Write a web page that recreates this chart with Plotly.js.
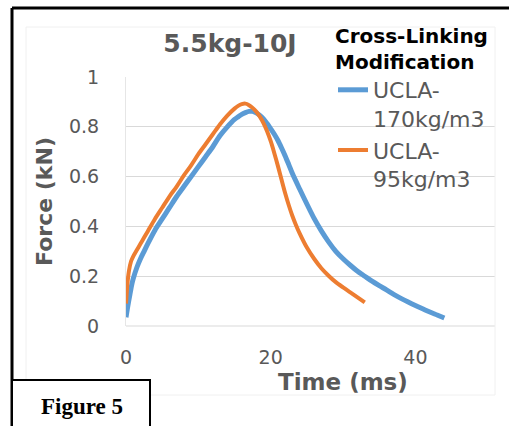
<!DOCTYPE html>
<html>
<head>
<meta charset="utf-8">
<script src="https://cdn.plot.ly/plotly-3.0.1.min.js"></script>
<style>html,body{margin:0;padding:0;background:#fff;}#chart{width:509px;height:426px;}</style>
</head>
<body>
<div id="chart"></div>
<script>
// Series: UCLA-170kg/m3 (blue)
const time170 = [0, 0.25, 0.5, 0.75, 1, 1.5, 2, 2.5, 3, 4, 5, 6, 7, 8, 9, 10, 11, 12, 13, 14, 15, 15.5, 16, 16.5, 17, 17.5, 18, 18.5, 19, 19.5, 20, 20.5, 21, 21.5, 22, 22.5, 23, 24, 25, 26, 27, 28, 29, 30, 31, 32, 33, 34, 35, 36, 37, 38, 39, 40, 41, 42, 43, 44];
const force170 = [0.035, 0.08, 0.12, 0.16, 0.19, 0.235, 0.27, 0.3, 0.33, 0.385, 0.43, 0.475, 0.52, 0.56, 0.6, 0.64, 0.68, 0.72, 0.765, 0.8, 0.83, 0.84, 0.85, 0.857, 0.862, 0.862, 0.856, 0.846, 0.832, 0.813, 0.792, 0.77, 0.745, 0.715, 0.683, 0.648, 0.612, 0.55, 0.49, 0.432, 0.382, 0.338, 0.3, 0.27, 0.244, 0.22, 0.2, 0.18, 0.162, 0.145, 0.127, 0.111, 0.096, 0.082, 0.069, 0.056, 0.044, 0.032];
// Series: UCLA-95kg/m3 (orange)
const time95 = [0, 0.2, 0.4, 0.7, 1, 1.5, 2, 2.5, 3, 4, 5, 6, 7, 8, 9, 10, 11, 12, 13, 14, 15, 15.5, 16, 16.5, 17, 17.5, 18, 18.5, 19, 19.5, 20, 20.5, 21, 21.5, 22, 22.5, 23, 23.5, 24, 25, 26, 27, 28, 29, 30, 31, 32, 33];
const force95 = [0.09, 0.17, 0.22, 0.26, 0.28, 0.305, 0.33, 0.355, 0.38, 0.43, 0.475, 0.52, 0.56, 0.605, 0.645, 0.69, 0.73, 0.77, 0.81, 0.845, 0.873, 0.884, 0.891, 0.893, 0.887, 0.876, 0.861, 0.841, 0.815, 0.782, 0.742, 0.694, 0.642, 0.587, 0.533, 0.485, 0.442, 0.405, 0.372, 0.315, 0.27, 0.232, 0.202, 0.176, 0.155, 0.135, 0.115, 0.095];
const seriesNames = ["UCLA-<br>170kg/m3", "UCLA-<br>95kg/m3"];
const xTicks = [0, 20, 40];
const yTicks = [0, 0.2, 0.4, 0.6, 0.8, 1];
const yTickText = ["0", "0.2", "0.4", "0.6", "0.8", "1"];

const FONT = "DejaVu Sans, sans-serif";
const GRAY = "#595959";

const traces = [
  {x: time170, y: force170, name: seriesNames[0], legendgroup: "a", type: "scatter", mode: "lines",
   line: {color: "#5B9BD5", width: 5, shape: "spline", smoothing: 0.8}},
  {x: time95, y: force95, name: seriesNames[1], legendgroup: "b", type: "scatter", mode: "lines",
   line: {color: "#ED7D31", width: 4, shape: "spline", smoothing: 0.8}}
];

// paper coordinate helpers (plot area: x 126..495, y 77..326 px)
const px = v => (v - 126) / 369;
const py = v => (326 - v) / 249;

const layout = {
  width: 509, height: 426,
  margin: {l: 126, r: 14, t: 77, b: 100},
  paper_bgcolor: "#ffffff", plot_bgcolor: "#ffffff",
  font: {family: FONT, color: GRAY},
  title: {text: "<b>5.5kg-10J</b>", font: {family: FONT, size: 25, color: GRAY},
          x: 230/509, xref: "container", xanchor: "center", y: 1 - 43/426, yref: "container", yanchor: "middle"},
  xaxis: {range: [0, 51], tickvals: xTicks, ticktext: xTicks.map(String),
          showgrid: false, zeroline: false, showline: false,
          ticks: "outside", ticklen: 14, tickcolor: "rgba(0,0,0,0)",
          tickfont: {family: FONT, size: 19, color: GRAY}, fixedrange: true},
  yaxis: {range: [0, 1], tickvals: yTicks, ticktext: yTickText,
          showgrid: true, gridcolor: "#d9d9d9", gridwidth: 1, zeroline: false,
          showline: true, linecolor: "#e6e6e6", linewidth: 1,
          ticks: "outside", ticklen: 22, tickcolor: "rgba(0,0,0,0)",
          tickfont: {family: FONT, size: 19, color: GRAY},
          title: {text: "<b>Force (kN)</b>", font: {family: FONT, size: 22, color: GRAY}, standoff: 10},
          fixedrange: true},
  showlegend: true,
  legend: {x: px(333), y: py(17), xanchor: "left", yanchor: "top",
           bgcolor: "rgba(0,0,0,0)", borderwidth: 0, valign: "top",
           traceorder: "grouped", tracegroupgap: 0,
           font: {family: FONT, size: 22, color: GRAY},
           title: {text: "<b>Cross-Linking<br>Modification</b>", side: "top", font: {family: FONT, size: 20, color: "#000000"}},
           itemwidth: 30},
  shapes: [
    // x-axis baseline
    {type: "line", xref: "paper", yref: "paper", x0: 0, x1: 1, y0: 0, y1: 0, line: {color: "#d9d9d9", width: 1}},
    // faint chart-area frame
    {type: "rect", xref: "paper", yref: "paper", x0: px(26), x1: px(495), y0: py(395), y1: py(27), line: {color: "#f0f0f0", width: 1}},
    // outer black frame (left and top)
    {type: "line", xref: "paper", yref: "paper", x0: px(12), x1: px(12), y0: py(8), y1: py(430), line: {color: "#000", width: 3}},
    {type: "line", xref: "paper", yref: "paper", x0: px(12), x1: px(512), y0: py(8), y1: py(8), line: {color: "#000", width: 3}},
    // Figure 5 box
    {type: "rect", xref: "paper", yref: "paper", x0: px(12), x1: px(150), y0: py(432), y1: py(380), fillcolor: "#fff", line: {color: "#000", width: 2}}
  ],
  annotations: [
    {text: "<b>Time (ms)</b>", xref: "paper", yref: "paper", x: px(343), y: py(382), xanchor: "center", yanchor: "middle",
     showarrow: false, font: {family: FONT, size: 23, color: GRAY}},
    {text: "<b>Figure 5</b>", xref: "paper", yref: "paper", x: px(82), y: py(406), xanchor: "center", yanchor: "middle",
     showarrow: false, font: {family: "Liberation Serif, serif", size: 23, color: "#000"}}
  ]
};

Plotly.newPlot("chart", traces, layout, {displayModeBar: false, staticPlot: true});
</script>
</body>
</html>
